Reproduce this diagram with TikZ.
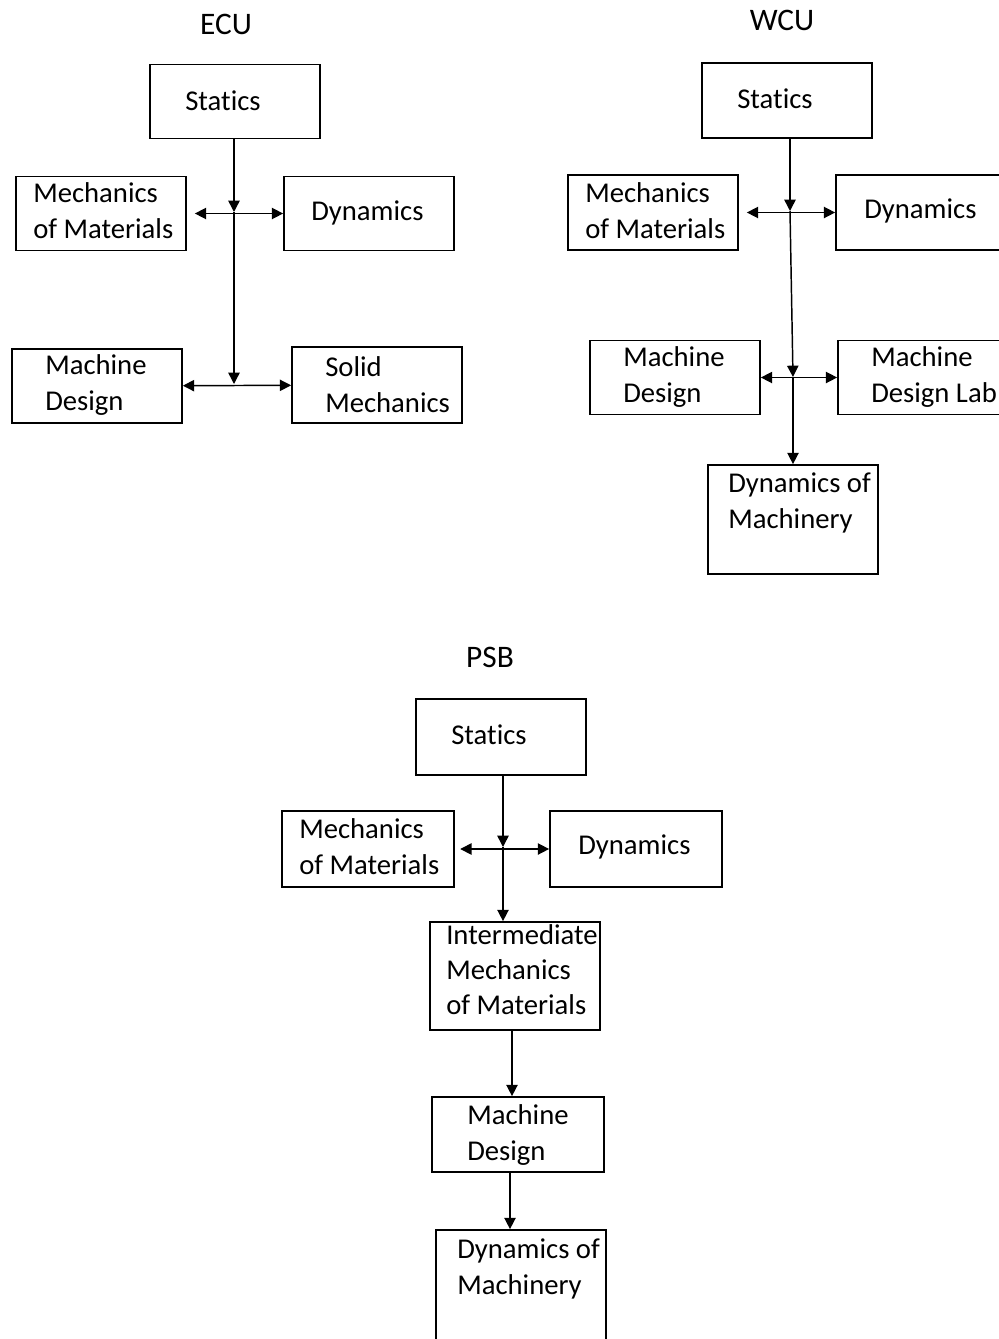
\documentclass[tikz,border=0pt]{standalone}
\usepackage{fontspec}
\setmainfont{Carlito}[Ligatures=NoCommon]
\usetikzlibrary{arrows.meta}
\tikzset{
  course/.style={draw,line width=1.3pt,rectangle,inner sep=0pt,minimum width=127.5pt,minimum height=55.5pt},
  lbl/.style={anchor=west,inner sep=0pt,align=left},
  ttl/.style={inner sep=0pt,font=\fontsize{23.5}{28}\selectfont},
  arr/.style={line width=1.1pt,-{Triangle[length=8.5pt,width=8.5pt]}},
  dbl/.style={line width=1.1pt,{Triangle[length=8.5pt,width=8.5pt]}-{Triangle[length=8.5pt,width=8.5pt]}}
}
\begin{document}
\begin{tikzpicture}[x=0.75pt,y=-0.75pt,font=\fontsize{21.5}{27}\selectfont]
  \useasboundingbox (0,0) rectangle (999,1339);
  \clip (0,0) rectangle (999,1339);

  \begin{scope}
    \node[ttl] (ecu) at (226,24) {ECU};
    \node[course] (ecuStat) at (235,101.5) {};
    \node[course] (ecuMoM) at (101,213.5) {};
    \node[course] (ecuDyn) at (369,213.5) {};
    \node[course] (ecuMD) at (97,386) {};
    \node[course,minimum height=57pt] (ecuSM) at (377,385) {};
    \node[lbl] (ecuStatT) at (185,101) {Statics};
    \node[lbl] (ecuMoMT) at (33,211) {Mechanics\\of Materials};
    \node[lbl] (ecuDynT) at (311,213) {Dynamics};
    \node[lbl] (ecuMDT) at (45,385) {Machine\\Design};
    \node[lbl] (ecuSMT) at (325,385) {Solid\\Mechanics};
    \coordinate (ecuJ1) at (234,212);
    \coordinate (ecuJ2) at (234,384);
    \draw[arr] (ecuJ1 |- ecuStat.south) -- (ecuJ1);
    \draw[arr] (ecuJ1) -- (ecuJ2);
    \draw[dbl,shorten <=6pt] (ecuMoM) -- (ecuDyn);
    \draw[dbl] (ecuMD) -- (ecuSM);
  \end{scope}

  \begin{scope}
    \node[ttl] (wcu) at (782,20) {WCU};
    \node[course,minimum height=56.25pt] (wcuStat) at (787,100.5) {};
    \node[course,minimum height=56.25pt] (wcuMoM) at (653,212.5) {};
    \node[course,minimum height=56.25pt] (wcuDyn) at (921,212.5) {};
    \node[course] (wcuMD) at (675,377.5) {};
    \node[course] (wcuMDL) at (923,377.5) {};
    \node[course,minimum height=81.75pt] (wcuDoM) at (793,519.5) {};
    \node[lbl] (wcuStatT) at (737,99) {Statics};
    \node[lbl] (wcuMoMT) at (585,211) {Mechanics\\of Materials};
    \node[lbl] (wcuDynT) at (864,211) {Dynamics};
    \node[lbl] (wcuMDT) at (623,377) {Machine\\Design};
    \node[lbl] (wcuMDLT) at (871,377) {Machine\\Design Lab};
    \node[lbl] (wcuDoMT) at (728,503) {Dynamics of\\Machinery};
    \coordinate (wcuJ1) at (790,211);
    \coordinate (wcuJ2) at (793,377);
    \draw[arr] (wcuJ1 |- wcuStat.south) -- (wcuJ1);
    \draw[arr] (wcuJ1) -- (wcuJ2);
    \draw[dbl,shorten <=6pt] (wcuMoM) -- (wcuDyn);
    \draw[dbl] (wcuMD) -- (wcuMDL);
    \draw[arr] (wcuJ2) -- (wcuJ2 |- wcuDoM.north);
  \end{scope}

  \begin{scope}
    \node[ttl] (psb) at (490,657) {PSB};
    \node[course,minimum height=57pt] (psbStat) at (501,737) {};
    \node[course,minimum width=129pt,minimum height=57pt] (psbMoM) at (368,849) {};
    \node[course,minimum width=129pt,minimum height=57pt] (psbDyn) at (636,849) {};
    \node[course,minimum height=81pt] (psbIMoM) at (515,976) {};
    \node[course,minimum width=129pt,minimum height=56.25pt] (psbMD) at (518,1134.5) {};
    \node[course,minimum height=90pt] (psbDoM) at (521,1290) {};
    \node[lbl] (psbStatT) at (451,735) {Statics};
    \node[lbl] (psbMoMT) at (299,847) {Mechanics\\of Materials};
    \node[lbl] (psbDynT) at (578,847) {Dynamics};
    \node[lbl,font=\fontsize{21.5}{26.25}\selectfont] (psbIMoMT) at (446,970) {Intermediate\\Mechanics\\of Materials};
    \node[lbl] (psbMDT) at (467,1135) {Machine\\Design};
    \node[lbl] (psbDoMT) at (457,1269) {Dynamics of\\Machinery};
    \coordinate (psbJ) at (503,847);
    \coordinate (psbK) at (512,1030);
    \coordinate (psbL) at (510,1172);
    \draw[arr] (psbJ |- psbStat.south) -- (psbJ);
    \draw[dbl,shorten <=4pt] (psbMoM) -- (psbDyn);
    \draw[arr] (psbJ) -- (psbJ |- psbIMoM.north);
    \draw[arr] (psbK |- psbIMoM.south) -- (psbK |- psbMD.north);
    \draw[arr] (psbL |- psbMD.south) -- (psbL |- psbDoM.north);
  \end{scope}
\end{tikzpicture}
\end{document}
